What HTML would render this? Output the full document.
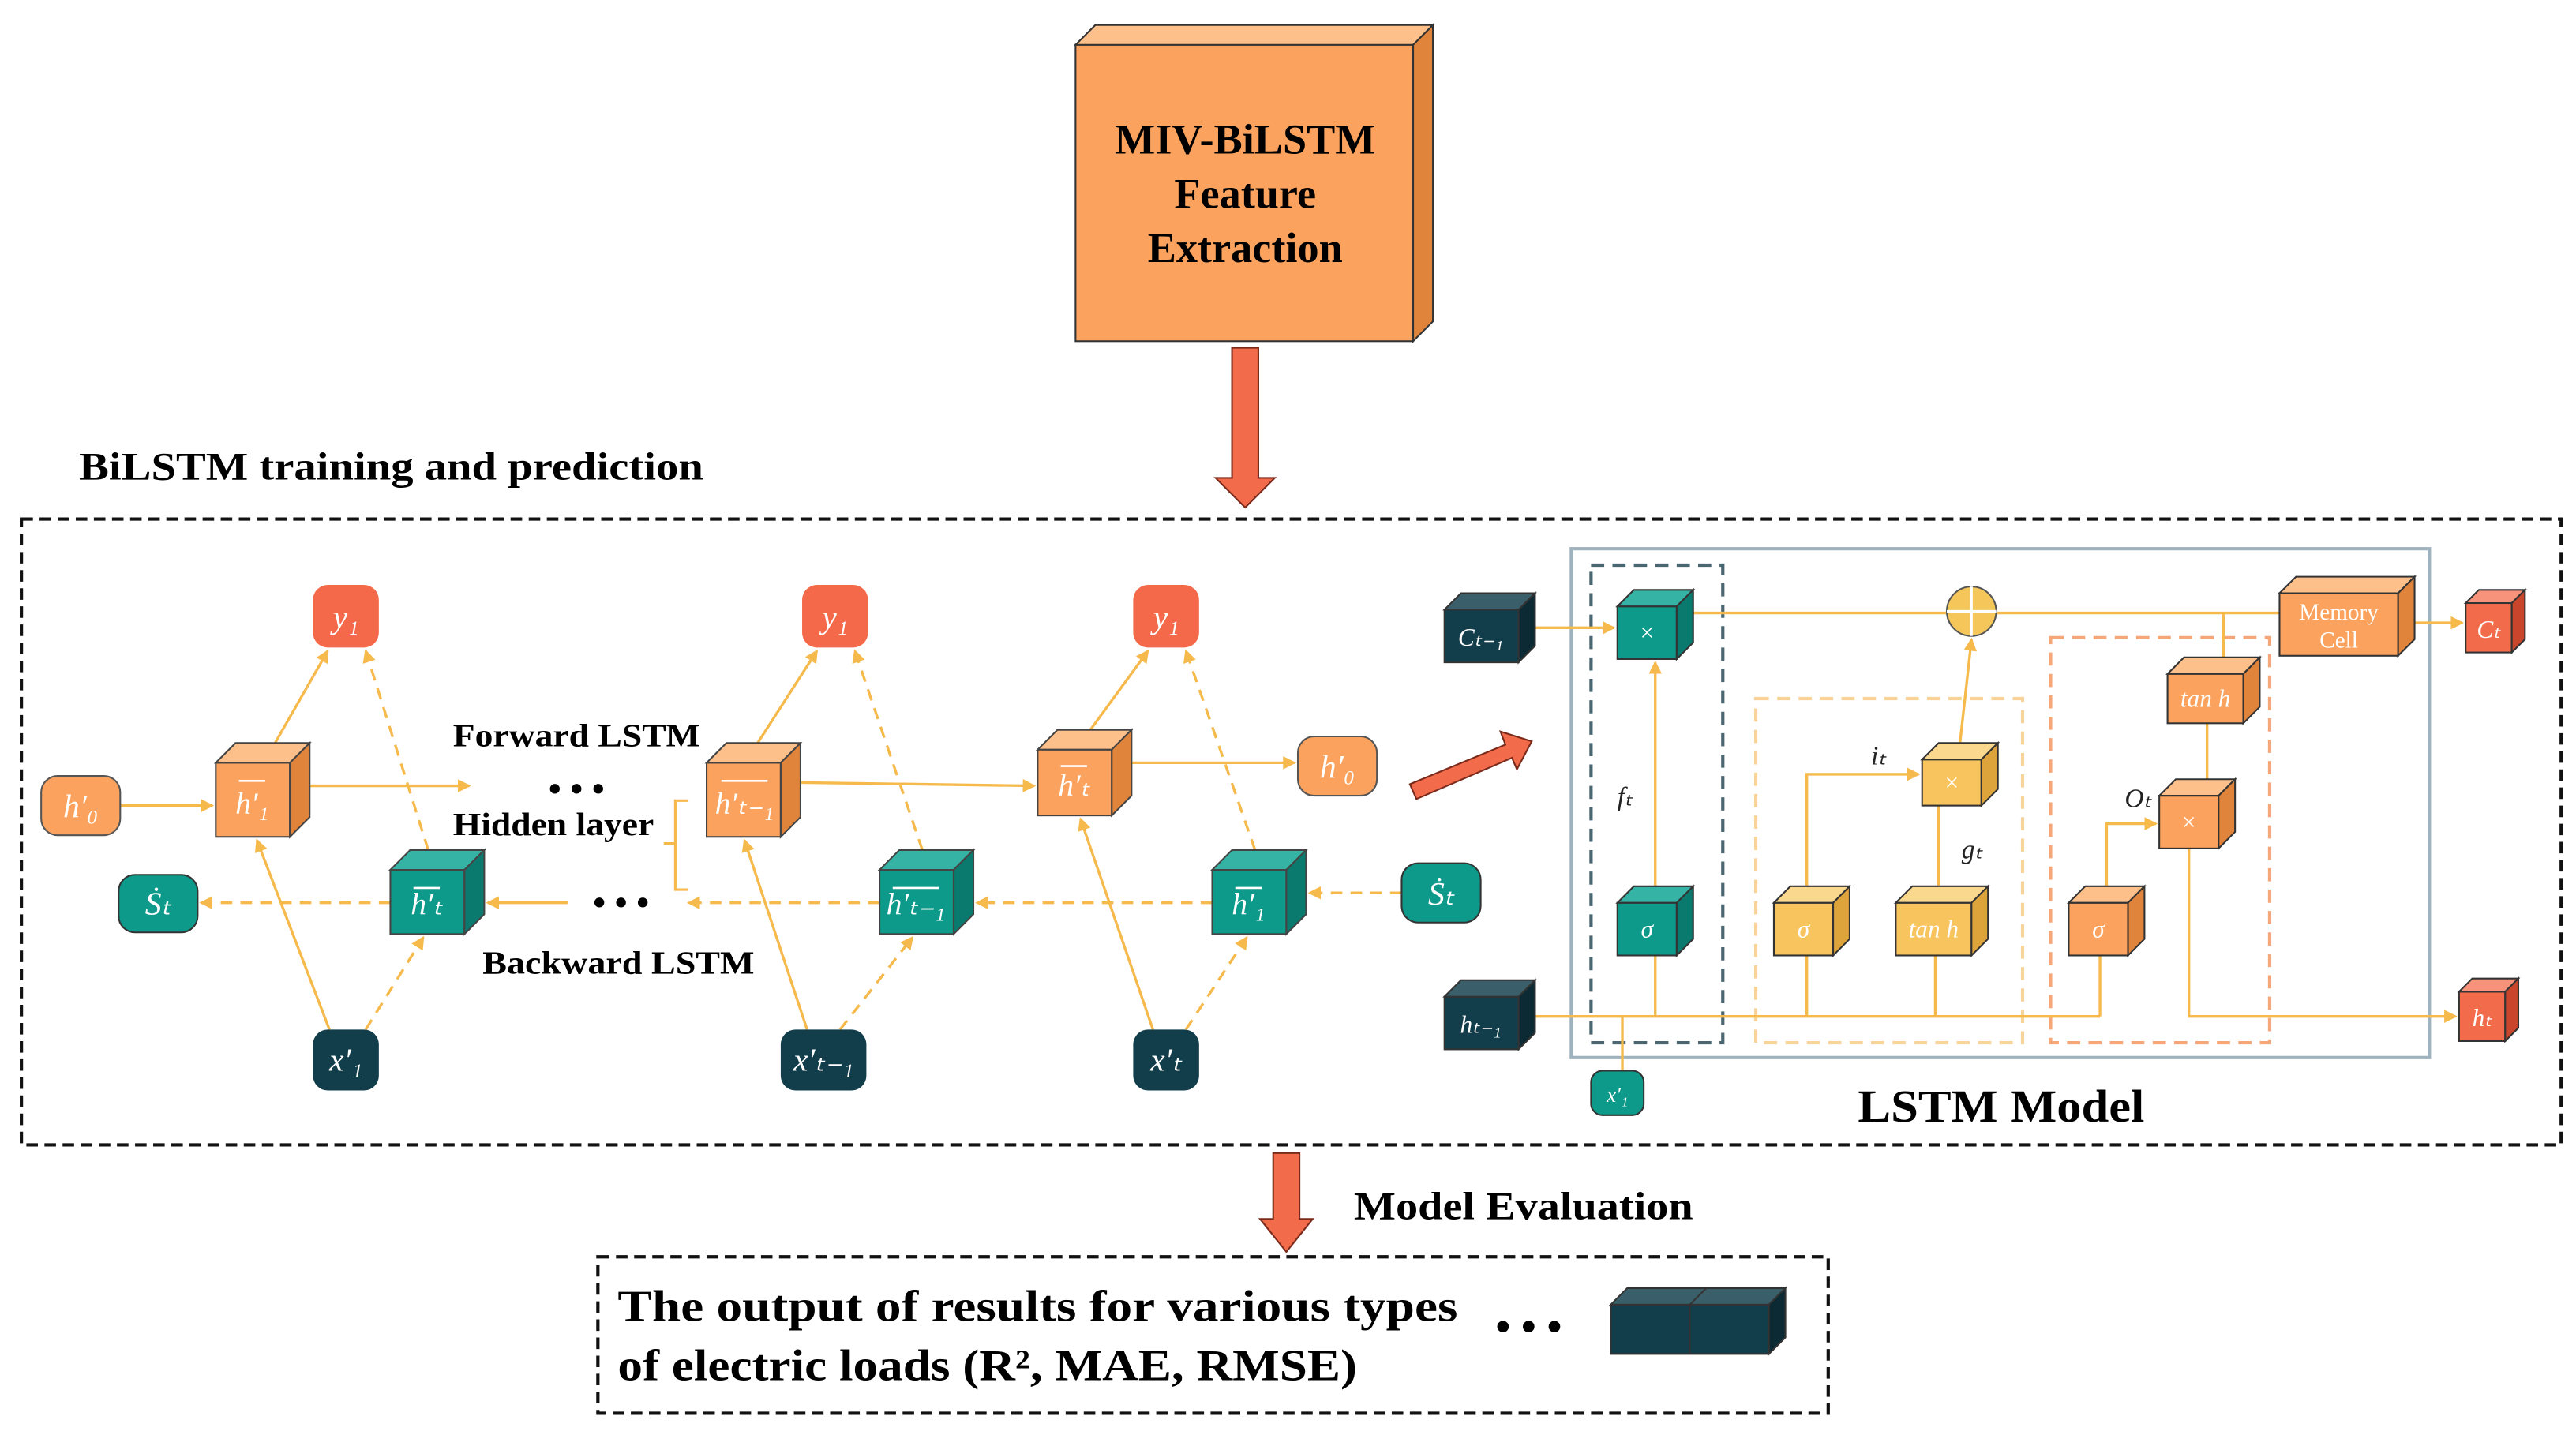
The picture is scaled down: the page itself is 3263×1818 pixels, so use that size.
<!DOCTYPE html>
<html><head><meta charset="utf-8"><style>
html,body{margin:0;padding:0;background:#fff;}
svg{display:block;}
text{font-family:"Liberation Serif",serif;}
</style></head><body>
<svg width="3263" height="1818" viewBox="0 0 1564 871" xmlns="http://www.w3.org/2000/svg">
<defs>
<marker id="a" markerWidth="8" markerHeight="8" refX="7" refY="4" orient="auto" markerUnits="userSpaceOnUse"><path d="M0,0 L8,4 L0,8 z" fill="#F6B94C"/></marker>
</defs>
<rect width="1564" height="871" fill="#fff"/>

<!-- Top box -->
<g stroke="#333" stroke-width="1">
<rect x="653" y="27" width="205" height="180" fill="#FBA35E"/>
<polygon points="653,27 665,15 870,15 858,27" fill="#FDC08A"/>
<polygon points="858,27 870,15 870,195 858,207" fill="#E0843C"/>
</g>
<text x="756" y="93" font-size="26" font-weight="bold" text-anchor="middle">MIV-BiLSTM</text>
<text x="756" y="126" font-size="26" font-weight="bold" text-anchor="middle">Feature</text>
<text x="756" y="159" font-size="26" font-weight="bold" text-anchor="middle">Extraction</text>
<polygon points="748,211 764,211 764,290 774,290 756,308 738,290 748,290" fill="#F26B4B" stroke="#7a2a1a" stroke-width="1"/>
<text x="48" y="291" font-size="24" font-weight="bold" textLength="379" lengthAdjust="spacingAndGlyphs">BiLSTM training and prediction</text>

<rect x="13" y="315" width="1542" height="380" fill="none" stroke="#111" stroke-width="2" stroke-dasharray="7,4"/>

<!-- left connectors -->
<g stroke="#F6B94C" stroke-width="1.6" fill="none">
<line x1="73" y1="489" x2="129" y2="489" marker-end="url(#a)"/>
<line x1="188" y1="477" x2="285" y2="477" marker-end="url(#a)"/>
<line x1="486" y1="475" x2="628" y2="477" marker-end="url(#a)"/>
<line x1="687" y1="463" x2="786" y2="463" marker-end="url(#a)"/>
<line x1="167" y1="451" x2="199" y2="395" marker-end="url(#a)"/>
<line x1="460" y1="451" x2="496" y2="395" marker-end="url(#a)"/>
<line x1="662" y1="443" x2="697" y2="395" marker-end="url(#a)"/>
<line x1="200" y1="625" x2="156" y2="510" marker-end="url(#a)"/>
<line x1="490" y1="625" x2="452" y2="510" marker-end="url(#a)"/>
<line x1="700" y1="625" x2="656" y2="497" marker-end="url(#a)"/>
<line x1="345" y1="548" x2="296" y2="548" marker-end="url(#a)"/>
<g stroke-dasharray="7,5">
<line x1="260" y1="516" x2="222" y2="395" marker-end="url(#a)"/>
<line x1="560" y1="516" x2="519" y2="395" marker-end="url(#a)"/>
<line x1="762" y1="516" x2="720" y2="395" marker-end="url(#a)"/>
<line x1="222" y1="625" x2="257" y2="569" marker-end="url(#a)"/>
<line x1="510" y1="625" x2="554" y2="569" marker-end="url(#a)"/>
<line x1="720" y1="625" x2="757" y2="569" marker-end="url(#a)"/>
<line x1="851" y1="542" x2="795" y2="542" marker-end="url(#a)"/>
<line x1="736" y1="548" x2="593" y2="548" marker-end="url(#a)"/>
<line x1="534" y1="548" x2="418" y2="548" marker-end="url(#a)"/>
<line x1="237" y1="548" x2="122" y2="548" marker-end="url(#a)"/>
</g>
</g>

<!-- rounded nodes -->
<g font-size="20" font-style="italic" text-anchor="middle" fill="#fff">
<rect x="190" y="355" width="40" height="38" rx="9" fill="#F4694A"/><text x="210" y="381" fill="#fff">y₁</text>
<rect x="487" y="355" width="40" height="38" rx="9" fill="#F4694A"/><text x="507" y="381" fill="#fff">y₁</text>
<rect x="688" y="355" width="40" height="38" rx="9" fill="#F4694A"/><text x="708" y="381" fill="#fff">y₁</text>
<rect x="25" y="471" width="48" height="36" rx="10" fill="#FBA35E" stroke="#555"/><text x="49" y="496" fill="#fff">h′₀</text>
<rect x="788" y="447" width="48" height="36" rx="10" fill="#FBA35E" stroke="#555"/><text x="812" y="472" fill="#fff">h′₀</text>
<rect x="72" y="531" width="48" height="35" rx="10" fill="#0E9A8A" stroke="#333"/><text x="96" y="555" fill="#fff">Ṡₜ</text>
<rect x="851" y="524" width="48" height="36" rx="10" fill="#0E9A8A" stroke="#333"/><text x="875" y="549" fill="#fff">Ṡₜ</text>
<rect x="190" y="625" width="40" height="37" rx="9" fill="#123E4B"/><text x="210" y="650" fill="#fff">x′₁</text>
<rect x="474" y="625" width="52" height="37" rx="9" fill="#123E4B"/><text x="500" y="650" fill="#fff">x′ₜ₋₁</text>
<rect x="688" y="625" width="40" height="37" rx="9" fill="#123E4B"/><text x="708" y="650" fill="#fff">x′ₜ</text>
</g>

<!-- cubes -->
<g stroke="#444" stroke-width="1">
<rect x="131" y="463" width="45" height="45" fill="#FBA35E"/><polygon points="131,463 143,451 188,451 176,463" fill="#FDC08A"/><polygon points="176,463 188,451 188,496 176,508" fill="#E0843C"/>
<rect x="429" y="463" width="45" height="45" fill="#FBA35E"/><polygon points="429,463 441,451 486,451 474,463" fill="#FDC08A"/><polygon points="474,463 486,451 486,496 474,508" fill="#E0843C"/>
<rect x="630" y="455" width="45" height="40" fill="#FBA35E"/><polygon points="630,455 642,443 687,443 675,455" fill="#FDC08A"/><polygon points="675,455 687,443 687,483 675,495" fill="#E0843C"/>
<rect x="237" y="528" width="45" height="39" fill="#0E9A8A"/><polygon points="237,528 249,516 294,516 282,528" fill="#35B3A5"/><polygon points="282,528 294,516 294,555 282,567" fill="#0A7A6E"/>
<rect x="534" y="528" width="45" height="39" fill="#0E9A8A"/><polygon points="534,528 546,516 591,516 579,528" fill="#35B3A5"/><polygon points="579,528 591,516 591,555 579,567" fill="#0A7A6E"/>
<rect x="736" y="528" width="45" height="39" fill="#0E9A8A"/><polygon points="736,528 748,516 793,516 781,528" fill="#35B3A5"/><polygon points="781,528 793,516 793,555 781,567" fill="#0A7A6E"/>
</g>
<g font-size="19" font-style="italic" text-anchor="middle" fill="#fff">
<text x="153" y="494">h′₁</text><text x="452" y="494">h′ₜ₋₁</text><text x="652" y="483">h′ₜ</text>
<text x="259" y="555">h′ₜ</text><text x="556" y="555">h′ₜ₋₁</text><text x="758" y="555">h′₁</text>
</g>
<g stroke="#fff" stroke-width="1.3">
<line x1="145" y1="474" x2="161" y2="474"/><line x1="438" y1="474" x2="466" y2="474"/><line x1="644" y1="465" x2="660" y2="465"/>
<line x1="251" y1="539" x2="267" y2="539"/><line x1="542" y1="539" x2="570" y2="539"/><line x1="750" y1="539" x2="766" y2="539"/>
</g>

<text x="275" y="453" font-size="20" font-weight="bold" textLength="150" lengthAdjust="spacingAndGlyphs">Forward LSTM</text>
<text x="333" y="486" font-size="22" font-weight="bold">• • •</text>
<text x="275" y="507" font-size="20" font-weight="bold" textLength="122" lengthAdjust="spacingAndGlyphs">Hidden layer</text>
<path d="M418,486 L410,486 L410,512 L403,512 M410,512 L410,540 L418,540" fill="none" stroke="#F6B94C" stroke-width="1.5"/>
<text x="360" y="555" font-size="22" font-weight="bold">• • •</text>
<text x="293" y="591" font-size="20" font-weight="bold" textLength="165" lengthAdjust="spacingAndGlyphs">Backward LSTM</text>

<polygon points="856,476 914,452 911,444 930,450 921,467 918,460 860,485" fill="#F26B4B" stroke="#7a2a1a"/>

<!-- LSTM model -->
<rect x="954" y="333" width="521" height="309" fill="none" stroke="#9FB3BF" stroke-width="2"/>
<rect x="966" y="343" width="80" height="290" fill="none" stroke="#4A6670" stroke-width="2" stroke-dasharray="8,5"/>
<rect x="1066" y="424" width="162" height="209" fill="none" stroke="#F9D49A" stroke-width="2" stroke-dasharray="8,5"/>
<rect x="1245" y="387" width="133" height="246" fill="none" stroke="#F5A77A" stroke-width="2" stroke-dasharray="8,5"/>

<g stroke="#F6B94C" stroke-width="1.6" fill="none">
<line x1="932" y1="381" x2="980" y2="381" marker-end="url(#a)"/>
<line x1="1028" y1="372" x2="1182" y2="372"/>
<line x1="1212" y1="372" x2="1384" y2="372"/>
<line x1="1466" y1="378" x2="1495" y2="378" marker-end="url(#a)"/>
<line x1="1005" y1="538" x2="1005" y2="402" marker-end="url(#a)"/>
<line x1="932" y1="617" x2="1275" y2="617"/>
<line x1="1005" y1="617" x2="1005" y2="580"/>
<line x1="1097" y1="617" x2="1097" y2="580"/>
<line x1="1175" y1="617" x2="1175" y2="580"/>
<line x1="1275" y1="617" x2="1275" y2="580"/>
<line x1="985" y1="617" x2="985" y2="650"/>
<polyline points="1097,538 1097,470 1165,470" marker-end="url(#a)"/>
<line x1="1177" y1="538" x2="1177" y2="489"/>
<line x1="1190" y1="451" x2="1197" y2="388" marker-end="url(#a)"/>
<polyline points="1279,538 1279,500 1309,500" marker-end="url(#a)"/>
<polyline points="1329,515 1329,617 1491,617" marker-end="url(#a)"/>
<line x1="1340" y1="439" x2="1340" y2="473"/>
<line x1="1350" y1="399" x2="1350" y2="372"/>
</g>
<circle cx="1197" cy="371" r="15" fill="#F5C65A" stroke="#555"/>
<line x1="1182" y1="371" x2="1212" y2="371" stroke="#fff" stroke-width="1.5"/><line x1="1197" y1="356" x2="1197" y2="386" stroke="#fff" stroke-width="1.5"/>

<g stroke="#333" stroke-width="1">
<rect x="877" y="370" width="45" height="32" fill="#123E4B"/><polygon points="877,370 887,360 932,360 922,370" fill="#3A5F6B"/><polygon points="922,370 932,360 932,392 922,402" fill="#0B2A33"/>
<rect x="877" y="605" width="45" height="32" fill="#123E4B"/><polygon points="877,605 887,595 932,595 922,605" fill="#3A5F6B"/><polygon points="922,605 932,595 932,627 922,637" fill="#0B2A33"/>
<rect x="982" y="368" width="36" height="32" fill="#0E9A8A"/><polygon points="982,368 992,358 1028,358 1018,368" fill="#35B3A5"/><polygon points="1018,368 1028,358 1028,390 1018,400" fill="#0A7A6E"/>
<rect x="982" y="548" width="36" height="32" fill="#0E9A8A"/><polygon points="982,548 992,538 1028,538 1018,548" fill="#35B3A5"/><polygon points="1018,548 1028,538 1028,570 1018,580" fill="#0A7A6E"/>
<rect x="1167" y="461" width="36" height="28" fill="#F7C45E"/><polygon points="1167,461 1177,451 1213,451 1203,461" fill="#FAD98E"/><polygon points="1203,461 1213,451 1213,479 1203,489" fill="#DDA43C"/>
<rect x="1077" y="548" width="36" height="32" fill="#F7C45E"/><polygon points="1077,548 1087,538 1123,538 1113,548" fill="#FAD98E"/><polygon points="1113,548 1123,538 1123,570 1113,580" fill="#DDA43C"/>
<rect x="1151" y="548" width="46" height="32" fill="#F7C45E"/><polygon points="1151,548 1161,538 1207,538 1197,548" fill="#FAD98E"/><polygon points="1197,548 1207,538 1207,570 1197,580" fill="#DDA43C"/>
<rect x="1256" y="548" width="36" height="32" fill="#FBA35E"/><polygon points="1256,548 1266,538 1302,538 1292,548" fill="#FDC08A"/><polygon points="1292,548 1302,538 1302,570 1292,580" fill="#E0843C"/>
<rect x="1311" y="483" width="36" height="32" fill="#FBA35E"/><polygon points="1311,483 1321,473 1357,473 1347,483" fill="#FDC08A"/><polygon points="1347,483 1357,473 1357,505 1347,515" fill="#E0843C"/>
<rect x="1316" y="409" width="46" height="30" fill="#FBA35E"/><polygon points="1316,409 1326,399 1372,399 1362,409" fill="#FDC08A"/><polygon points="1362,409 1372,399 1372,429 1362,439" fill="#E0843C"/>
<rect x="1384" y="360" width="72" height="38" fill="#FBA35E"/><polygon points="1384,360 1394,350 1466,350 1456,360" fill="#FDC08A"/><polygon points="1456,360 1466,350 1466,388 1456,398" fill="#E0843C"/>
<rect x="1497" y="366" width="28" height="30" fill="#F26B4B"/><polygon points="1497,366 1505,358 1533,358 1525,366" fill="#F7937A"/><polygon points="1525,366 1533,358 1533,388 1525,396" fill="#C9462C"/>
<rect x="1493" y="602" width="28" height="30" fill="#F26B4B"/><polygon points="1493,602 1501,594 1529,594 1521,602" fill="#F7937A"/><polygon points="1521,602 1529,594 1529,624 1521,632" fill="#C9462C"/>
</g>
<rect x="966" y="650" width="32" height="27" rx="7" fill="#0E9A8A" stroke="#333"/>
<g fill="#fff" font-style="italic" text-anchor="middle" font-size="15">
<text x="899" y="392">Cₜ₋₁</text><text x="899" y="627">hₜ₋₁</text>
<text x="1000" y="389" font-style="normal">×</text><text x="1000" y="569">σ</text>
<text x="1185" y="480" font-style="normal">×</text><text x="1095" y="569">σ</text><text x="1174" y="569">tan h</text>
<text x="1274" y="569">σ</text><text x="1329" y="504" font-style="normal">×</text><text x="1339" y="429">tan h</text>
<text x="1420" y="376" font-style="normal" font-size="14">Memory</text><text x="1420" y="393" font-style="normal" font-size="14">Cell</text>
<text x="1511" y="387">Cₜ</text><text x="1507" y="623">hₜ</text>
<text x="982" y="669" font-size="13">x′₁</text>
</g>
<g font-style="italic" font-size="16" fill="#222">
<text x="982" y="489">fₜ</text><text x="1136" y="464">iₜ</text><text x="1191" y="521">gₜ</text><text x="1290" y="490">Oₜ</text>
</g>
<text x="1128" y="681" font-size="28" font-weight="bold" textLength="174" lengthAdjust="spacingAndGlyphs">LSTM Model</text>

<!-- bottom -->
<polygon points="773,700 789,700 789,740 797,740 781,760 765,740 773,740" fill="#F26B4B" stroke="#7a2a1a"/>
<text x="822" y="740" font-size="24" font-weight="bold" textLength="206" lengthAdjust="spacingAndGlyphs">Model Evaluation</text>
<rect x="363" y="763" width="747" height="95" fill="none" stroke="#111" stroke-width="2" stroke-dasharray="7,4"/>
<text x="375" y="802" font-size="27" font-weight="bold" textLength="510" lengthAdjust="spacingAndGlyphs">The output of results for various types</text>
<text x="375" y="838" font-size="27" font-weight="bold" textLength="449" lengthAdjust="spacingAndGlyphs">of electric loads (R², MAE, RMSE)</text>
<text x="908" y="814" font-size="26" font-weight="bold">• • •</text>
<g stroke="#333" stroke-width="1">
<rect x="978" y="792" width="96" height="30" fill="#123E4B"/><polygon points="978,792 988,782 1084,782 1074,792" fill="#3A5F6B"/><polygon points="1074,792 1084,782 1084,812 1074,822" fill="#0B2A33"/>
<line x1="1026" y1="792" x2="1026" y2="822"/><line x1="1026" y1="792" x2="1036" y2="782"/>
</g>
</svg>
</body></html>
